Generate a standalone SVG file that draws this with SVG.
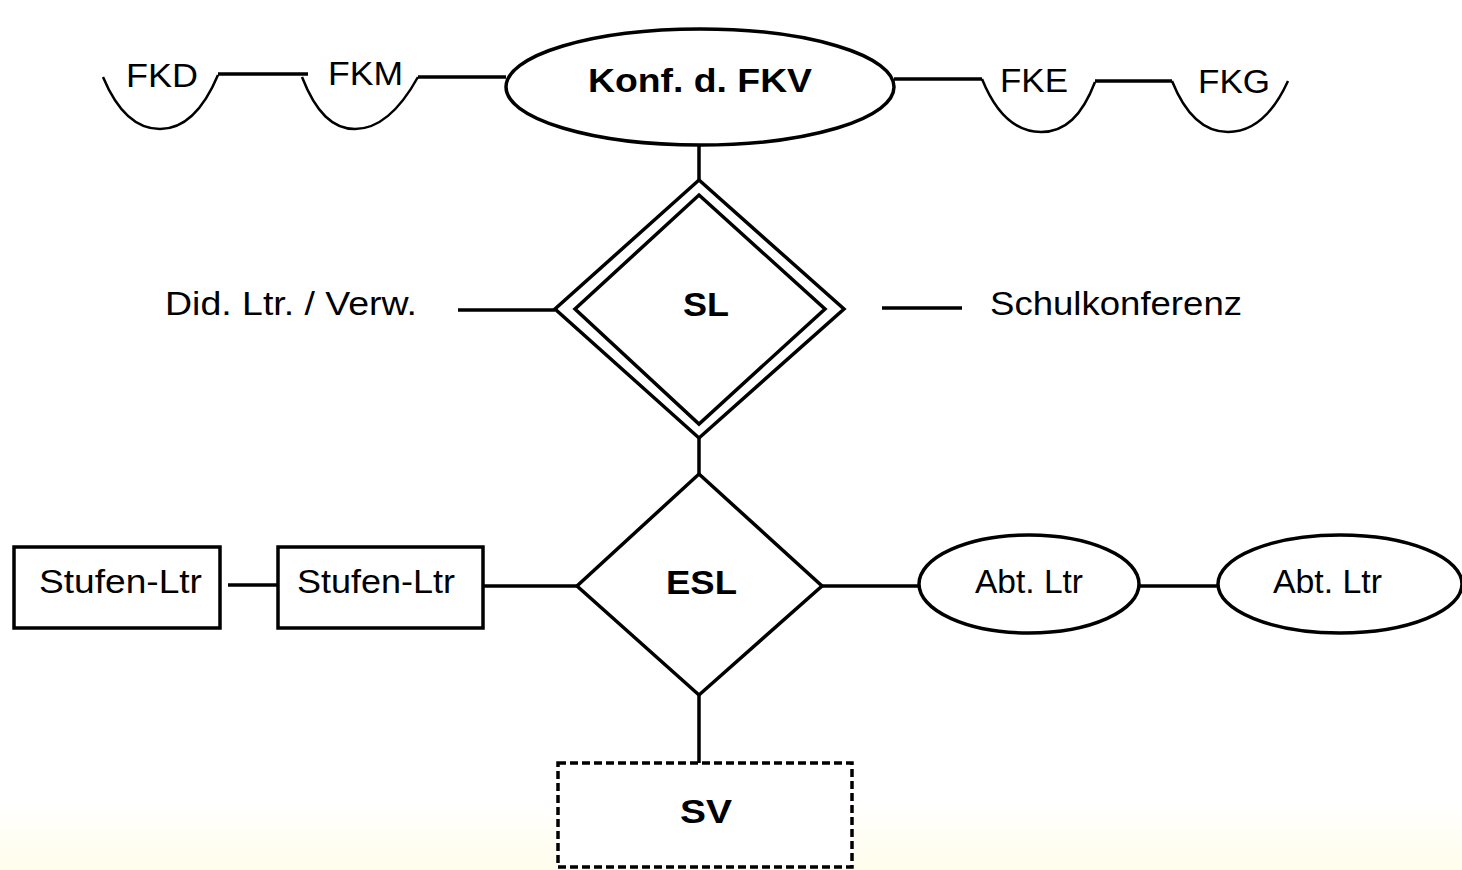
<svg xmlns="http://www.w3.org/2000/svg" width="1462" height="870" viewBox="0 0 1462 870">
  <defs>
    <linearGradient id="bg" x1="0" y1="0" x2="0" y2="1">
      <stop offset="0" stop-color="#ffffff"/>
      <stop offset="1" stop-color="#fffdeb"/>
    </linearGradient>
    <style>
      .s { fill: #ffffff; stroke: #000; stroke-width: 3.5; }
      .a { fill: none; stroke: #000; stroke-width: 2.5; }
      .c { fill: none; stroke: #000; stroke-width: 3.5; }
      .t { font-family: "Liberation Sans", Arial, sans-serif; font-size: 34px; fill: #000; }
      .b { font-family: "Liberation Sans", Arial, sans-serif; font-size: 34px; font-weight: bold; fill: #000; }
      .d { fill: #ffffff; stroke: #000; stroke-width: 3.5; stroke-dasharray: 8 4; }
    </style>
  </defs>
  <rect x="0" y="0" width="1462" height="870" fill="#ffffff"/>
  <rect x="0" y="800" width="1462" height="70" fill="url(#bg)"/>

  <g id="connectors">
    <line class="c" x1="218" y1="74" x2="308" y2="74"/>
    <line class="c" x1="418" y1="77" x2="506" y2="77"/>
    <line class="c" x1="894" y1="79" x2="982" y2="79"/>
    <line class="c" x1="1095" y1="81" x2="1172" y2="81"/>
    <line class="c" x1="699" y1="145" x2="699" y2="180"/>
    <line class="c" x1="458" y1="310" x2="555" y2="310"/>
    <line class="c" x1="882" y1="308" x2="962" y2="308"/>
    <line class="c" x1="699" y1="438" x2="699" y2="474"/>
    <line class="c" x1="228" y1="585" x2="278" y2="585"/>
    <line class="c" x1="484" y1="586" x2="577" y2="586"/>
    <line class="c" x1="822" y1="586" x2="919" y2="586"/>
    <line class="c" x1="1138" y1="586" x2="1218" y2="586"/>
    <line class="c" x1="699" y1="695" x2="699" y2="763"/>
  </g>

  <g id="FKD">
    <path class="a" d="M103 77 C118 113 137 129 160 129 C183 129 202 113 218 75"/>
    <text class="t" x="126" y="87" textLength="72" lengthAdjust="spacingAndGlyphs">FKD</text>
  </g>
  <g id="FKM">
    <path class="a" d="M302 77 C316 113 333 129 355 129 C377 129 398 113 418 77"/>
    <text class="t" x="328" y="85" textLength="75" lengthAdjust="spacingAndGlyphs">FKM</text>
  </g>
  <g id="KonfFKV">
    <ellipse class="s" cx="700" cy="87" rx="194" ry="58"/>
    <text class="b" x="588" y="92" textLength="224" lengthAdjust="spacingAndGlyphs">Konf. d. FKV</text>
  </g>
  <g id="FKE">
    <path class="a" d="M982 79 C997 116 1017 132 1041 132 C1065 132 1082 116 1095 82"/>
    <text class="t" x="1000" y="92" textLength="68" lengthAdjust="spacingAndGlyphs">FKE</text>
  </g>
  <g id="FKG">
    <path class="a" d="M1172 81 C1186 116 1205 132 1228 132 C1252 132 1272 116 1288 81"/>
    <text class="t" x="1198" y="93" textLength="72" lengthAdjust="spacingAndGlyphs">FKG</text>
  </g>

  <g id="SL">
    <polygon class="s" points="699,180 844,309 699,438 555,309"/>
    <polygon class="s" points="699,195 825,309 699,424 575,309"/>
    <text class="b" x="683" y="316" textLength="46" lengthAdjust="spacingAndGlyphs">SL</text>
  </g>
  <g id="DidLtrVerw">
    <text class="t" x="165" y="315" textLength="252" lengthAdjust="spacingAndGlyphs">Did. Ltr. / Verw.</text>
  </g>
  <g id="Schulkonferenz">
    <text class="t" x="990" y="315" textLength="252" lengthAdjust="spacingAndGlyphs">Schulkonferenz</text>
  </g>

  <g id="ESL">
    <polygon class="s" points="699,474 822,586 699,695 577,586"/>
    <text class="b" x="666" y="594" textLength="71" lengthAdjust="spacingAndGlyphs">ESL</text>
  </g>
  <g id="StufenLtr1">
    <rect class="s" x="14" y="547" width="206" height="81"/>
    <text class="t" x="39" y="593" textLength="163" lengthAdjust="spacingAndGlyphs">Stufen-Ltr</text>
  </g>
  <g id="StufenLtr2">
    <rect class="s" x="278" y="547" width="205" height="81"/>
    <text class="t" x="297" y="593" textLength="158" lengthAdjust="spacingAndGlyphs">Stufen-Ltr</text>
  </g>
  <g id="AbtLtr1">
    <ellipse class="s" cx="1029" cy="584" rx="110" ry="49"/>
    <text class="t" x="975" y="593" textLength="108" lengthAdjust="spacingAndGlyphs">Abt. Ltr</text>
  </g>
  <g id="AbtLtr2">
    <ellipse class="s" cx="1340" cy="584" rx="122" ry="49"/>
    <text class="t" x="1273" y="593" textLength="109" lengthAdjust="spacingAndGlyphs">Abt. Ltr</text>
  </g>
  <g id="SV">
    <rect class="d" x="558" y="763" width="294" height="104"/>
    <text class="b" x="680" y="823" textLength="52" lengthAdjust="spacingAndGlyphs">SV</text>
  </g>
</svg>
